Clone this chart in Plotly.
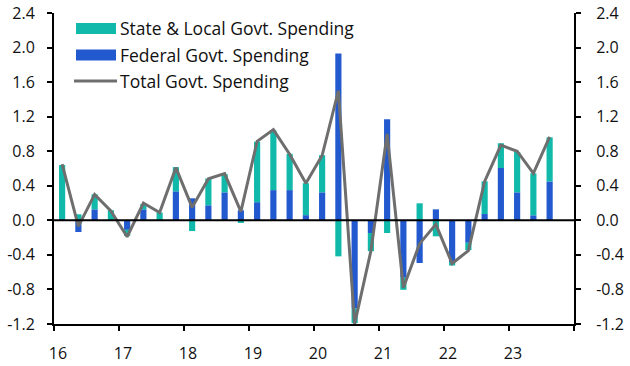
import plotly.graph_objects as go

quarters = ["2016Q1","2016Q2","2016Q3","2016Q4",
            "2017Q1","2017Q2","2017Q3","2017Q4",
            "2018Q1","2018Q2","2018Q3","2018Q4",
            "2019Q1","2019Q2","2019Q3","2019Q4",
            "2020Q1","2020Q2","2020Q3","2020Q4",
            "2021Q1","2021Q2","2021Q3","2021Q4",
            "2022Q1","2022Q2","2022Q3","2022Q4",
            "2023Q1","2023Q2","2023Q3"]
federal = [0.01,-0.135,0.127,0.0,
           -0.11,0.127,0.0,0.336,
           0.255,0.174,0.324,0.116,
           0.21,0.35,0.35,0.06,
           0.324,1.93,-1.02,-0.147,
           1.17,-0.664,-0.494,0.127,
           -0.483,-0.26,0.073,0.606,
           0.324,0.058,0.45]
state_local = [0.63,0.07,0.174,0.116,
               -0.07,0.06,0.09,0.28,
               -0.124,0.31,0.21,-0.03,
               0.70,0.69,0.42,0.37,
               0.43,-0.417,-0.17,-0.21,
               -0.147,-0.14,0.197,-0.185,
               -0.04,-0.085,0.378,0.286,
               0.467,0.486,0.51]
total = [0.65,-0.07,0.30,0.11,
         -0.19,0.20,0.09,0.61,
         0.15,0.48,0.54,0.10,
         0.915,1.05,0.765,0.43,
         0.75,1.50,-1.2,-0.355,
         1.0,-0.78,-0.27,-0.046,
         -0.50,-0.35,0.45,0.87,
         0.80,0.544,0.965]
year_ticks = [16,17,18,19,20,21,22,23,24]
year_labels = ["16","17","18","19","20","21","22","23",""]
y_ticks = [-1.2,-0.8,-0.4,0.0,0.4,0.8,1.2,1.6,2.0,2.4]
y_labels = ["-1.2","-0.8","-0.4","0.0","0.4","0.8","1.2","1.6","2.0","2.4"]

x = [int(q[2:4]) + (int(q[5]) - 0.5) / 4 for q in quarters]

TEAL = "#10b9aa"
BLUE = "#2259cf"
GREY = "#6e6e6e"
FONT = "Open Sans"

fig = go.Figure()
fig.add_trace(go.Bar(x=x, y=federal, marker_color=BLUE, width=0.095,
                     marker_line_width=0, showlegend=False))
fig.add_trace(go.Bar(x=x, y=state_local, marker_color=TEAL, width=0.095,
                     marker_line_width=0, showlegend=False))
fig.add_trace(go.Scatter(x=x, y=total, mode="lines",
                         line=dict(color=GREY, width=3), showlegend=False))
fig.add_trace(go.Scatter(x=[None], y=[None], yaxis="y2", showlegend=False,
                         hoverinfo="skip"))

yax = dict(range=[-1.2, 2.4], tickvals=y_ticks, ticktext=y_labels,
           showline=True, linecolor="black", linewidth=2,
           ticks="outside", ticklen=5, tickwidth=2, tickcolor="black",
           showgrid=False, zeroline=False, automargin=False,
           tickfont=dict(family=FONT, size=16, color="#111"))

fig.update_layout(
    width=630, height=366,
    margin=dict(l=54, r=56, t=13, b=42, autoexpand=False),
    paper_bgcolor="white", plot_bgcolor="white",
    barmode="relative",
    xaxis=dict(range=[16, 24], tickvals=year_ticks, ticktext=year_labels,
               showline=True, linecolor="black", linewidth=2,
               ticks="outside", ticklen=5, tickwidth=2, tickcolor="black",
               showgrid=False, zeroline=False, ticklabelshift=4,
               ticklabelstandoff=9, automargin=False,
               tickfont=dict(family=FONT, size=16, color="#111")),
    yaxis=dict(**yax, ticklabelstandoff=9),
    yaxis2=dict(**yax, overlaying="y", side="right", ticklabelstandoff=12),
    showlegend=False,
)

# zero line on top of bars
fig.add_shape(type="line", xref="paper", x0=0, x1=1, yref="y", y0=0, y1=0,
              line=dict(color="black", width=2), layer="above")

# custom legend
def px_x(p):
    return (p - 54) / 520
def px_y(p):
    return (324 - p) / 311

legend_items = [("State & Local Govt. Spending", TEAL, "box", 28.5),
                ("Federal Govt. Spending", BLUE, "box", 55),
                ("Total Govt. Spending", GREY, "line", 81)]
for name, col, kind, yc in legend_items:
    if kind == "box":
        fig.add_shape(type="rect", xref="paper", yref="paper",
                      x0=px_x(76), x1=px_x(116), y0=px_y(yc + 5.5), y1=px_y(yc - 5.5),
                      fillcolor=col, line_width=0)
    else:
        fig.add_shape(type="line", xref="paper", yref="paper",
                      x0=px_x(74), x1=px_x(117), y0=px_y(yc), y1=px_y(yc),
                      line=dict(color=col, width=3))
    fig.add_annotation(text=name, xref="paper", yref="paper",
                       x=px_x(118), y=px_y(yc), xanchor="left", yanchor="middle",
                       showarrow=False, font=dict(family=FONT, size=17.5, color="#111"))

fig.write_html("out.html", config={"displayModeBar": False},
               post_script="document.body.style.margin='0';document.body.style.padding='0';document.body.style.overflow='hidden';")
